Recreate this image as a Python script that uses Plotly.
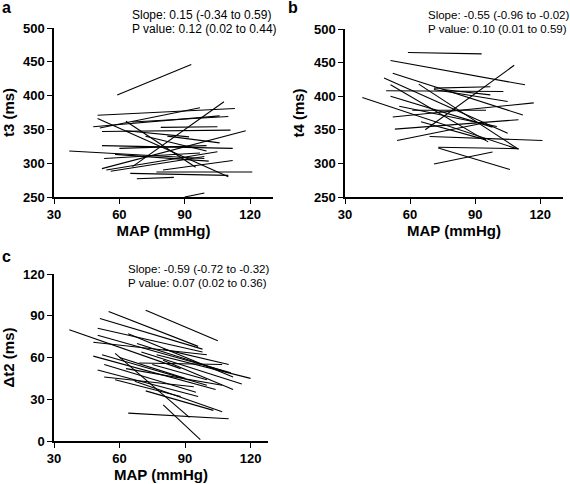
import plotly.graph_objects as go

W, H = 570, 484

# ---------- data: per-subject regression segments (x = MAP mmHg) ----------
# Panel a: t3 (ms)
a_x1 = [59, 90, 50, 51, 66, 50, 63, 37, 48, 79, 52, 52, 53, 52, 54, 56, 65, 68, 77, 80, 63, 66, 72, 60, 58, 82]
a_y1 = [401, 250, 371, 352, 295, 366, 362, 318, 354, 353, 347, 326, 307, 292, 290, 288, 285, 277, 287, 290, 348, 361, 340, 322, 313, 340]
a_x2 = [93, 99, 113, 97, 108, 110, 95, 99, 106, 105, 111, 112, 97, 118, 105, 99, 110, 85, 121, 112, 92, 110, 100, 100, 101, 106]
a_y2 = [446, 256, 381, 382, 391, 280, 294, 307, 370, 354, 349, 322, 315, 348, 317, 310, 282, 279, 287, 304, 339, 369, 318, 326, 303, 330]

# Panel b: t4 (ms)
b_x1 = [59, 51, 67, 52, 48, 51, 64, 38, 49, 71, 71, 75, 51, 52, 53, 54, 69, 73, 73, 71, 61, 65, 55]
b_y1 = [465, 453, 350, 434, 427, 417, 418, 398, 408, 412, 410, 410, 400, 369, 351, 334, 340, 324, 323, 299, 379, 362, 385]
b_x2 = [93, 113, 108, 112, 105, 96, 110, 109, 103, 97, 105, 97, 98, 117, 110, 94, 121, 110, 106, 98, 95, 95, 100]
b_y2 = [463, 417, 446, 372, 345, 332, 321, 322, 407, 414, 392, 402, 354, 390, 365, 360, 334, 322, 291, 317, 379, 335, 355]

# Panel c: delta t2 (ms)
c_x1 = [72, 55, 51, 37, 50, 50, 64, 69, 52, 48, 50, 53, 67, 64, 58, 80, 72, 77, 70, 80, 68, 60, 75, 80, 53, 63, 58, 48]
c_y1 = [94, 93, 88, 80, 81, 76, 77, 56, 62, 61, 51, 46, 43, 20, 63, 26, 36, 62, 64, 58, 70, 60, 55, 66, 55, 52, 44, 71]
c_x2 = [105, 96, 98, 88, 98, 111, 112, 107, 100, 104, 96, 94, 107, 110, 92, 97, 103, 120, 116, 112, 110, 90, 100, 110, 95, 107, 88, 100]
c_y2 = [72, 68, 66, 52, 64, 49, 46, 55, 40, 37, 32, 39, 21, 16, 17, 1, 22, 45, 41, 37, 49, 45, 44, 55, 35, 40, 32, 62]

# ---------- helpers ----------
def seg_xy(x1, y1, x2, y2):
    xs, ys = [], []
    for a, b, c, d in zip(x1, y1, x2, y2):
        xs += [a, c, None]
        ys += [b, d, None]
    return xs, ys

FONT = "Arial, Liberation Sans, sans-serif"

def px_x(p):
    return p / W

def px_y(p):
    return 1 - p / H

fig = go.Figure()
panels = [
    ("x", "y", a_x1, a_y1, a_x2, a_y2),
    ("x2", "y2", b_x1, b_y1, b_x2, b_y2),
    ("x3", "y3", c_x1, c_y1, c_x2, c_y2),
]
for xa, ya, x1, y1, x2, y2 in panels:
    xs, ys = seg_xy(x1, y1, x2, y2)
    fig.add_trace(go.Scatter(x=xs, y=ys, mode="lines", xaxis=xa, yaxis=ya,
                             line=dict(color="black", width=1.1),
                             showlegend=False, hoverinfo="skip"))

axis_common = dict(showgrid=False, zeroline=False, showline=True, linecolor="black",
                   linewidth=1.5, ticks="outside", ticklen=5, tickwidth=1.3,
                   tickcolor="black", mirror=False, automargin=False,
                   tickfont=dict(family=FONT, size=13, color="black", weight="bold"))

title_font = dict(family=FONT, size=15, color="black", weight="bold")

# pixel layout of the three panels
dom_a_x = [px_x(54), px_x(273)]
dom_a_y = [px_y(197), px_y(28)]
dom_b_x = [px_x(345), px_x(563)]
dom_b_y = [px_y(197), px_y(29)]
dom_c_x = [px_x(54), px_x(268)]
dom_c_y = [px_y(441), px_y(274)]

fig.update_layout(
    width=W, height=H,
    margin=dict(l=0, r=0, t=0, b=0, pad=0, autoexpand=False),
    paper_bgcolor="white", plot_bgcolor="white",
    xaxis=dict(domain=dom_a_x, anchor="y", range=[30, 130.5], tickvals=[30, 60, 90, 120],
               title=dict(text="MAP (mmHg)", font=title_font, standoff=4), **axis_common),
    yaxis=dict(domain=dom_a_y, anchor="x", range=[250, 500], tickvals=[250, 300, 350, 400, 450, 500],
               title=dict(text="t3 (ms)", font=title_font, standoff=6), **axis_common),
    xaxis2=dict(domain=dom_b_x, anchor="y2", range=[30, 130.5], tickvals=[30, 60, 90, 120],
                title=dict(text="MAP (mmHg)", font=title_font, standoff=4), **axis_common),
    yaxis2=dict(domain=dom_b_y, anchor="x2", range=[250, 500], tickvals=[250, 300, 350, 400, 450, 500],
                title=dict(text="t4 (ms)", font=title_font, standoff=6), **axis_common),
    xaxis3=dict(domain=dom_c_x, anchor="y3", range=[30, 128], tickvals=[30, 60, 90, 120],
                title=dict(text="MAP (mmHg)", font=title_font, standoff=4), **axis_common),
    yaxis3=dict(domain=dom_c_y, anchor="x3", range=[0, 120], tickvals=[0, 30, 60, 90, 120],
                title=dict(text="Δt2 (ms)", font=title_font, standoff=6), **axis_common),
)

ann_a = dict(family=FONT, size=12, color="black")
ann_bc = dict(family=FONT, size=11.5, color="black")
letter_font = dict(family=FONT, size=16, color="black", weight="bold")

annots = [
    ("a", 1, 8, letter_font), ("b", 287, 8, letter_font), ("c", 1, 256, letter_font),
    ("Slope: 0.15 (-0.34 to 0.59)", 131, 15, ann_a),
    ("P value: 0.12 (0.02 to 0.44)", 131, 29, ann_a),
    ("Slope: -0.55 (-0.96 to -0.02)", 427, 15, ann_bc),
    ("P value: 0.10 (0.01 to 0.59)", 427, 29, ann_bc),
    ("Slope: -0.59 (-0.72 to -0.32)", 127, 269, ann_bc),
    ("P value: 0.07 (0.02 to 0.36)", 127, 283, ann_bc),
]
for text, x, y, f in annots:
    fig.add_annotation(text=text, xref="paper", yref="paper", x=px_x(x), y=px_y(y),
                       xanchor="left", yanchor="middle", showarrow=False, font=f,
                       borderpad=0)

fig.write_html("out.html", config={"displayModeBar": False},
               post_script="document.body.style.margin='0';document.body.style.padding='0';")
